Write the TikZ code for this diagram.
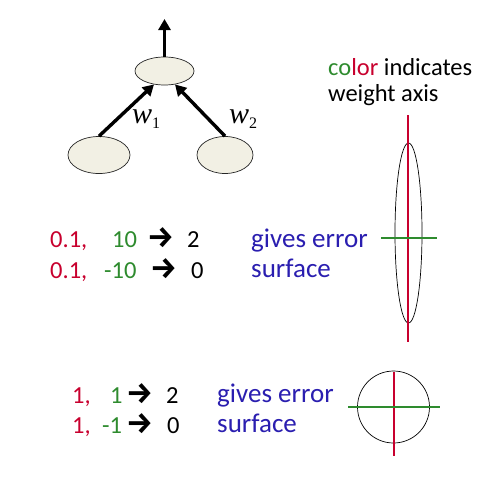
\documentclass[tikz,border=0pt]{standalone}
\usepackage{fontspec}
\setmainfont{Carlito}
\newfontfamily\arrowfont{Fira Sans}
\newfontfamily\serifw{Liberation Serif}
\usetikzlibrary{arrows.meta,shapes.geometric}
\definecolor{cred}{HTML}{C8002E}
\definecolor{cgreen}{HTML}{2E8B2E}
\definecolor{cblue}{HTML}{2A1EB0}
\definecolor{nodefill}{HTML}{F2F0E4}
\begin{document}
\begin{tikzpicture}[x=1pt,y=-1pt,
  neuron/.style={ellipse, draw=black!85, fill=nodefill, line width=0.7pt, inner sep=0pt},
  wire/.style={line width=3.4pt, -{Triangle[length=11pt,width=12pt]}},
  txt/.style={anchor=base west, inner sep=0pt, font=\fontsize{24.5}{28}\selectfont},
  btxt/.style={anchor=base west, inner sep=0pt, text=cblue, font=\fontsize{27}{30}\selectfont},
  arr/.style={anchor=base west, inner sep=0pt, font=\fontsize{30}{32}\selectfont\arrowfont\bfseries},
  wlab/.style={anchor=base west, inner sep=0pt, font=\fontsize{30}{32}\selectfont\serifw},
  redaxis/.style={draw=cred, line width=2.6pt},
  greenaxis/.style={draw=cgreen, line width=2.6pt},
  surf/.style={draw=black, line width=0.7pt},
]
\useasboundingbox (0,0) rectangle (497,477);
\fill[white] (0,0) rectangle (497,477);

% network
\node[neuron, minimum width=59pt, minimum height=28pt] (top) at (164.5,71) {};
\node[neuron, minimum width=62pt, minimum height=37pt] (in1) at (99,155) {};
\node[neuron, minimum width=56pt, minimum height=37pt] (in2) at (225,155) {};
\coordinate (outtip) at (164.5,19);
\draw[wire] (top.north) -- (outtip);
\draw[wire] (in1.north) -- (top.-128);
\draw[wire] (in2.north) -- (top.-52);
\node[wlab] (w1) at (132,123) {\textit{w}\raisebox{-5pt}{\fontsize{16}{18}\selectfont 1}};
\node[wlab] (w2) at (229,123) {\textit{w}\raisebox{-5pt}{\fontsize{16}{18}\selectfont 2}};

% legend
\node[txt] (leg1) at (328,75) {\textcolor{cgreen}{co}\textcolor{cred}{lor} indicates};
\node[txt] (leg2) at (328,101) {weight axis};

% first example
\node[txt, text=cred] (a1) at (50,247) {0.1,};
\node[txt, text=cgreen] (a2) at (112,247) {10};
\node[arr] (a3) at (147,247) {→};
\node[txt] (a4) at (187,247) {2};
\node[txt, text=cred] (b1) at (50,278) {0.1,};
\node[txt, text=cgreen] (b2) at (104,278) {-10};
\node[arr] (b3) at (150,278) {→};
\node[txt] (b4) at (191,278) {0};
\node[btxt] (g1) at (251,247) {gives error};
\node[btxt] (s1) at (251,277) {surface};

% elongated surface
\node[ellipse, surf, minimum width=27pt, minimum height=180pt, inner sep=0pt] (el) at (408.5,233) {};
\coordinate (r1t) at (408,115);
\coordinate (r1b) at (408,342);
\coordinate (g1l) at (381,238);
\coordinate (g1r) at (437,238);
\draw[redaxis] (r1t) -- (r1b);
\draw[greenaxis] (g1l) -- (g1r);

% second example
\node[txt, text=cred] (c1) at (72,403) {1,};
\node[txt, text=cgreen] (c2) at (110,403) {1};
\node[arr] (c3) at (126,403) {→};
\node[txt] (c4) at (166,403) {2};
\node[txt, text=cred] (d1) at (72,433) {1,};
\node[txt, text=cgreen] (d2) at (102,433) {-1};
\node[arr] (d3) at (126,433) {→};
\node[txt] (d4) at (167,433) {0};
\node[btxt] (g2) at (217,402) {gives error};
\node[btxt] (s2) at (217,432) {surface};

% round surface
\node[circle, surf, minimum size=72pt, inner sep=0pt] (ci) at (393.5,407) {};
\coordinate (r2t) at (394,372);
\coordinate (r2b) at (394,456);
\coordinate (g2l) at (348,407);
\coordinate (g2r) at (440,407);
\draw[redaxis] (r2t) -- (r2b);
\draw[greenaxis] (g2l) -- (g2r);
\end{tikzpicture}
\end{document}
